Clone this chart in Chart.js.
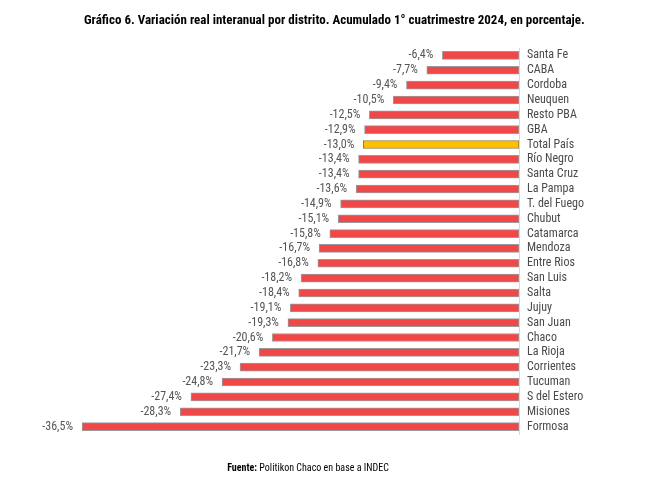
<!DOCTYPE html>
<html>
<head>
<meta charset="utf-8">
<script src="https://cdn.jsdelivr.net/npm/chart.js@4.4.1/dist/chart.umd.min.js"></script>
<style>
  html, body { margin: 0; padding: 0; background: #fff; }
  #wrap { width: 649px; height: 481px; position: relative; }
</style>
</head>
<body>
<div id="wrap"><canvas id="grafico"></canvas></div>
<script>
// distritos, de arriba hacia abajo
const distritos = ['Santa Fe', 'CABA', 'Cordoba', 'Neuquen', 'Resto PBA', 'GBA', 'Total País',
    'Río Negro', 'Santa Cruz', 'La Pampa', 'T. del Fuego', 'Chubut', 'Catamarca', 'Mendoza',
    'Entre Rios', 'San Luis', 'Salta', 'Jujuy', 'San Juan', 'Chaco', 'La Rioja', 'Corrientes',
    'Tucuman', 'S del Estero', 'Misiones', 'Formosa'];
const variacion = [-6.4, -7.7, -9.4, -10.5, -12.5, -12.9, -13.0, -13.4, -13.4, -13.6, -14.9, -15.1,
    -15.8, -16.7, -16.8, -18.2, -18.4, -19.1, -19.3, -20.6, -21.7, -23.3, -24.8, -27.4, -28.3, -36.5];
const destacado = 'Total País';

const titulo = 'Gráfico 6. Variación real interanual por distrito. Acumulado 1° cuatrimestre 2024, en porcentaje.';
const fuenteNegrita = 'Fuente:';
const fuenteTexto = ' Politikon Chaco en base a INDEC';

const FAM = '"Liberation Sans Narrow", "Roboto Condensed", "Arial Narrow", sans-serif';

const fmt = v => v.toFixed(1).replace('.', ',') + '%';

// ── Textos extra: título, fuente y etiquetas de valor ──
const textos = {
    id: 'textos',
    afterDatasetsDraw(chart) {
        const ctx = chart.ctx;
        ctx.save();
        const meta = chart.getDatasetMeta(0);
        ctx.font = '12px ' + FAM;
        ctx.fillStyle = '#555555';
        ctx.textAlign = 'right';
        ctx.textBaseline = 'middle';
        meta.data.forEach((bar, i) => {
            ctx.fillText(fmt(variacion[i]), bar.x - 9, bar.y);
        });
        ctx.restore();
    },
    afterDraw(chart) {
        const ctx = chart.ctx;
        ctx.save();
        ctx.fillStyle = '#000';
        ctx.textBaseline = 'alphabetic';
        ctx.textAlign = 'left';
        ctx.font = 'bold 13px ' + FAM;
        ctx.fillText(titulo, 84, 24);

        ctx.font = 'bold 10px ' + FAM;
        const w1 = ctx.measureText(fuenteNegrita).width;
        ctx.font = '10px ' + FAM;
        const w2 = ctx.measureText(fuenteTexto).width;
        const x0 = 308 - (w1 + w2) / 2;
        ctx.font = 'bold 10px ' + FAM;
        ctx.fillText(fuenteNegrita, x0, 471);
        ctx.font = '10px ' + FAM;
        ctx.fillText(fuenteTexto, x0 + w1, 471);
        ctx.restore();
    }
};

new Chart(document.getElementById('grafico').getContext('2d'), {
    type: 'bar',
    data: {
        labels: distritos,
        datasets: [{
            data: variacion,
            backgroundColor: distritos.map(d => d === destacado ? '#FFC000' : '#F04848'),
            borderColor: distritos.map(d => d === destacado ? '#8a7a40' : '#9a9a9a'),
            borderWidth: 1,
            borderSkipped: false,
            barThickness: 8
        }]
    },
    options: {
        indexAxis: 'y',
        responsive: true,
        maintainAspectRatio: false,
        animation: false,
        layout: { padding: { top: 48, bottom: 47, left: 82, right: 0 } },
        plugins: {
            legend: { display: false },
            tooltip: { enabled: false }
        },
        scales: {
            x: {
                display: false,
                min: -36.5,
                max: 0
            },
            y: {
                position: 'right',
                grid: { display: false, drawTicks: false },
                border: { display: true, color: '#d9d9d9', width: 1 },
                ticks: {
                    autoSkip: false,
                    padding: 8,
                    color: '#4a4a4a',
                    font: { family: FAM, size: 12 }
                },
                afterFit(scale) { scale.width = 130; }
            }
        }
    },
    plugins: [textos]
});
</script>
</body>
</html>
